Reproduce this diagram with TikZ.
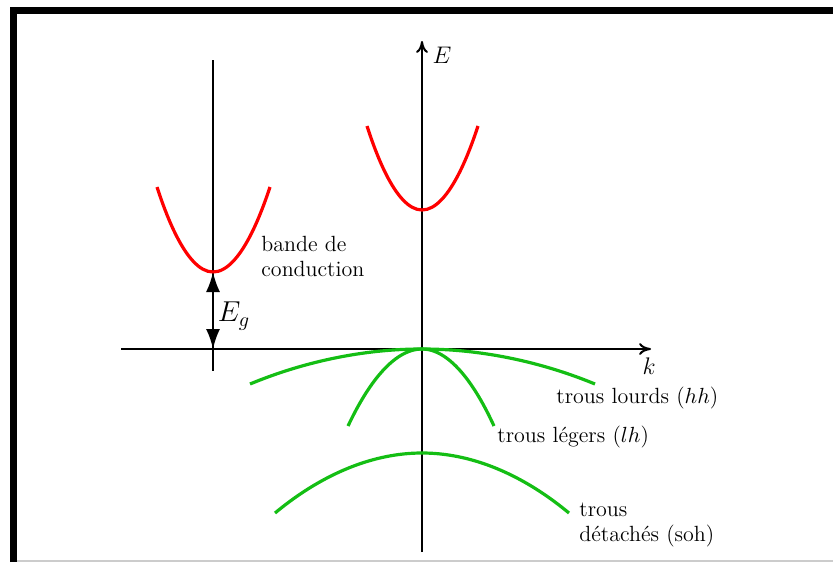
\documentclass[tikz,border=0pt]{standalone}
\usepackage{amsmath}
\usepackage{tikz}
\usetikzlibrary{arrows.meta, positioning}

\definecolor{bandgreen}{RGB}{20,190,20}

\begin{document}
\begin{tikzpicture}[
  x=0.5pt, y=-0.5pt,
  axis/.style={line width=1pt, -{To[length=6pt, width=6pt]}},
  band/.style={line width=1.6pt, draw=#1},
  gap/.style={line width=1pt, {Latex[length=10pt, width=7pt]}-{Latex[length=10pt, width=7pt]}},
  lbl/.style={font=\fontsize{11}{12.5}\selectfont, align=left, inner sep=0pt},
]
\useasboundingbox (0,0) rectangle (833,562);

% Frame
\draw[line width=3.5pt] (13.5,562) -- (13.5,10.5) -- (833,10.5);
\draw[gray!40, line width=0.6pt] (17,561) -- (833,561);

% Axes
\coordinate (kstart) at (121,349);
\coordinate (kend) at (651,349);
\coordinate (estart) at (422,552);
\coordinate (eend) at (422,41);
\coordinate (vtop) at (213,60);
\coordinate (vbot) at (213,371);
\draw[axis] (kstart) -- (kend);
\draw[axis] (estart) -- (eend);
\draw[line width=1pt] (vtop) -- (vbot);
\node[font=\large] (elbl) at (442,55) {$E$};
\node[font=\large] (klbl) at (649,366) {$k$};

% Conduction bands
\draw[band=red] (157,187) parabola bend (213,272) (270,187);
\draw[band=red] (367,126) parabola bend (422,210) (478,126);
\coordinate (cmin) at (213,272);
\coordinate (vmax) at (213,349);
\draw[gap] (vmax) -- (cmin);
\node[font=\Large] (eg) at (234,316) {$E_g$};
\node[lbl, anchor=north west] (cb) at (261,236) {bande de\\conduction};

% Valence bands
\draw[band=bandgreen] (250,384) parabola bend (422,349) (595,384);
\draw[band=bandgreen] (348,426) parabola bend (422,349) (494,426);
\draw[band=bandgreen] (275,513) parabola bend (422,453) (569,513);
\node[lbl, anchor=west] (hh) at (556,398) {trous lourds ($hh$)};
\node[lbl, anchor=west] (lh) at (497,437) {trous légers ($lh$)};
\node[lbl, anchor=north west] (soh) at (579,503) {trous\\détachés (soh)};

\end{tikzpicture}
\end{document}
